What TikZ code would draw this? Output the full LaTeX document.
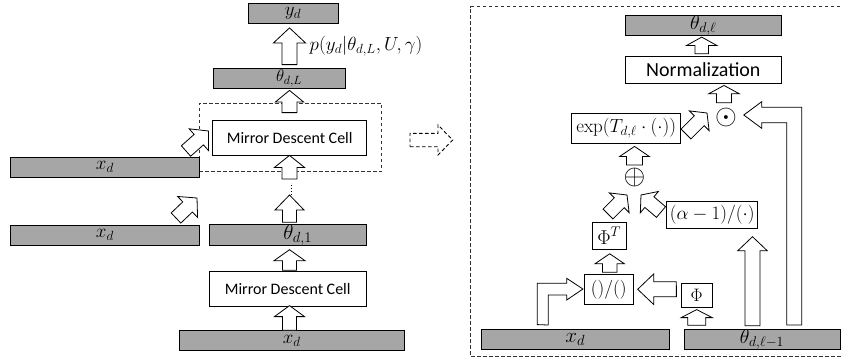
\RequirePackage{fix-cm}
\documentclass[tikz,border=0pt]{standalone}
\usepackage{fontspec}
\newfontfamily\cellfont{Carlito}
\usetikzlibrary{calc}

\tikzset{
  bahb/.store in=\baHB, bahh/.store in=\baHH, bahl/.store in=\baHL,
  bahb=7.5pt, bahh=15pt, bahl=11pt,
  fatarrow/.style={draw=black, line width=0.8pt, fill=white, line join=miter},
  box/.style={draw=black, line width=0.8pt, fill=white, inner sep=0pt, minimum height=20pt},
  greybox/.style={box, fill=black!35},
  mth/.style={font=\fontsize{19}{21}\selectfont},
  celltext/.style={font=\cellfont\fontsize{16}{18}\selectfont},
  dashbox/.style={draw=black!80, line width=0.8pt, dash pattern=on 3.5pt off 2.5pt},
  bigsym/.style={inner sep=0pt, font=\fontsize{28}{30}\selectfont},
}

% block arrow from #2 (tail centre) to #3 (tip)
\newcommand\blockarrow[3][]{%
  \begin{scope}[#1]
  \draw[fatarrow] ($(#2)!\baHB!-90:(#3)$)
    -- ($(#3)!\baHL!(#2)!\baHB!-90:(#3)$)
    -- ($(#3)!\baHL!(#2)!\baHH!-90:(#3)$)
    -- (#3)
    -- ($(#3)!\baHL!(#2)!\baHH!90:(#3)$)
    -- ($(#3)!\baHL!(#2)!\baHB!90:(#3)$)
    -- ($(#2)!\baHB!90:(#3)$) -- cycle;
  \end{scope}}

\begin{document}
\begin{tikzpicture}[x=1pt,y=-1pt]
\useasboundingbox (0,0) rectangle (843,362);

% ---------------- unrolled network ----------------
\coordinate (spine) at (289.5,0);
\node[greybox, mth, minimum width=90pt] (yd) at (293,13) {$y_d$};
\node[greybox, font=\fontsize{17}{19}\selectfont, minimum width=132pt] (thL) at (279,78) {\hspace{20pt}$\theta_{d,L}$};
\node[dashbox, minimum width=182.4pt, minimum height=68.7pt, inner sep=0pt] (cell) at (290.5,137.35) {};
\node[box, celltext, minimum width=154pt, minimum height=35pt] (mdc2) at (289.7,137.5) {Mirror Descent Cell};
\node[greybox, mth, minimum width=188.3pt] (xd1) at (104.9,167.3) {$x_d$};
\node[greybox, mth, minimum width=188.3pt] (xd2) at (104.9,235) {$x_d$};
\node[greybox, font=\fontsize{21}{23}\selectfont, minimum width=156.5pt] (th1) at (287.7,235) {\hspace{20pt}$\theta_{d,1}$};
\node[box, celltext, minimum width=156.5pt, minimum height=35pt] (mdc1) at (287.7,289.2) {Mirror Descent Cell};
\node[greybox, mth, minimum width=225.3pt] (xd3) at (291.7,340.7) {$x_d$\hspace{8pt}};
\node[mth, anchor=west, inner sep=0pt] (lik) at (309.5,46) {$p(y_d|\theta_{d,L},U,\gamma)$};

% arrow end points
\coordinate (a1s) at (xd3.north -| spine);
\coordinate (a1e) at ($(mdc1.south -| spine)+(0,-1.5)$);
\coordinate (a2s) at ($(mdc1.north -| spine)+(0,-1)$);
\coordinate (a2e) at ($(th1.south -| spine)+(0,4)$);
\coordinate (a3s) at ($(th1.north -| spine)+(0,-2)$);
\coordinate (dotlo) at (291.7,195);
\coordinate (dothi) at (291.7,183);
\coordinate (a3e) at (dotlo -| spine);
\coordinate (a4s) at ($(dothi -| spine)+(0,-4)$);
\coordinate (a4e) at (mdc2.south -| spine);
\coordinate (a5s) at ($(mdc2.north -| spine)+(0,-7)$);
\coordinate (a5e) at ($(thL.south -| spine)+(0,2)$);
\coordinate (a6s) at ($(thL.north -| spine)+(0,-3)$);
\coordinate (a6e) at ($(yd.south -| spine)+(0,4.5)$);
\coordinate (d1s) at (186,151);
\coordinate (d1e) at (208.5,131);
\coordinate (d2s) at (176,218);
\coordinate (d2e) at (197,198);

\blockarrow[bahb=7pt,bahh=15pt,bahl=11pt]{a1s}{a1e}
\blockarrow[bahb=7pt,bahh=15.5pt,bahl=11pt]{a2s}{a2e}
\blockarrow[bahb=7pt,bahh=14.5pt,bahl=15pt]{a3s}{a3e}
\draw[line width=1.4pt, dash pattern=on 1.4pt off 1.6pt] (dotlo) -- (dothi);
\blockarrow[bahb=7.5pt,bahh=15pt,bahl=12pt]{a4s}{a4e}
\blockarrow[bahb=7.5pt,bahh=14pt,bahl=11.5pt]{a5s}{a5e}
\blockarrow[bahb=7.5pt,bahh=16pt,bahl=15pt]{a6s}{a6e}
\blockarrow[bahb=7pt,bahh=14.5pt,bahl=13pt]{d1s}{d1e}
\blockarrow[bahb=7pt,bahh=14.5pt,bahl=13pt]{d2s}{d2e}

% expansion arrow
\coordinate (xs) at (410,140);
\coordinate (xe) at (452.7,140);
\blockarrow[bahb=6.7pt,bahh=15pt,bahl=14.7pt,fatarrow/.append style={dash pattern=on 3.5pt off 2.5pt, draw=black, line width=0.9pt}]{xs}{xe}

% ---------------- one mirror descent cell ----------------
\draw[dashbox] (846,6.7) -- (470.7,6.7) -- (470.7,356.7) -- (846,356.7);

\node[greybox, font=\fontsize{20}{22}\selectfont, minimum width=156.7pt] (thl) at (703.3,25) {$\theta_{d,\ell}$};
\node[box, font=\cellfont\fontsize{20}{22}\selectfont, minimum width=156.7pt, minimum height=27.3pt] (norm) at (703.3,69.7) {Normalization};
\node[box, mth, minimum width=109pt, minimum height=30pt] (expb) at (626.2,128) {$\exp(T_{d,\ell}\cdot(\cdot))$};
\node[bigsym] (oplus) at (634.5,177) {$\oplus$};
\node[bigsym] (odot) at (726,117.3) {$\odot$};
\node[box, font=\fontsize{20}{22}\selectfont, minimum width=33.7pt, minimum height=26.7pt] (phit) at (609.2,235.7) {$\Phi^T$};
\node[box, mth, minimum width=91pt, minimum height=26.7pt] (alph) at (712.2,215) {$(\alpha-1)/(\cdot)$};
\node[box, mth, minimum width=49pt, minimum height=30pt] (divb) at (608.8,289.3) {$()/()$};
\node[box, font=\fontsize{18}{20}\selectfont, minimum width=31.3pt, minimum height=24.4pt] (phi) at (696.7,295.5) {$\Phi$};
\node[greybox, font=\fontsize{21}{23}\selectfont, minimum width=188.3pt] (xd4) at (575.2,339.3) {$x_d$};
\node[greybox, font=\fontsize{20}{22}\selectfont, minimum width=156pt] (thm) at (762,339.3) {$\theta_{d,\ell-1}$};

\coordinate (r1s) at ($(thm.north -| phi)+(0,-3.6)$);
\coordinate (r1e) at ($(phi.south)+(0,1.5)$);
\coordinate (r2s) at ($(phi.west)+(-4.3,-6.3)$);
\coordinate (r2e) at ($(divb.east)+(4,0)$);
\coordinate (r3s) at ($(divb.north)+(0.9,-1.6)$);
\coordinate (r3e) at ($(phit.south)+(0.5,4.3)$);
\coordinate (r4s) at (608,214);
\coordinate (r4e) at (627,195);
\coordinate (r5s) at (661,212);
\coordinate (r5e) at (641,195);
\coordinate (r6s) at (634.5,165);
\coordinate (r6e) at ($(expb.south -| oplus)+(0,3)$);
\coordinate (r7s) at (686,134);
\coordinate (r7e) at (707,113);
\coordinate (r8s) at ($(odot.north)+(-2,-5)$);
\coordinate (r8e) at ($(norm.south -| r8s)+(0,1.7)$);
\coordinate (r9s) at ($(norm.north)+(-1.6,-2)$);
\coordinate (r9e) at ($(thl.south -| r9s)+(0,1.7)$);
\coordinate (r10s) at (752.5,325.7);
\coordinate (r10e) at (752.5,236.7);

\blockarrow[bahb=9pt,bahh=15.5pt,bahl=8pt]{r1s}{r1e}
\blockarrow[bahb=7.5pt,bahh=15.3pt,bahl=16pt]{r2s}{r2e}
\blockarrow[bahb=7.2pt,bahh=14.7pt,bahl=10pt]{r3s}{r3e}
\blockarrow[bahb=7pt,bahh=14pt,bahl=11pt]{r4s}{r4e}
\blockarrow[bahb=7pt,bahh=14pt,bahl=11pt]{r5s}{r5e}
\blockarrow[bahb=8pt,bahh=14.7pt,bahl=10pt]{r6s}{r6e}
\blockarrow[bahb=7pt,bahh=14pt,bahl=11pt]{r7s}{r7e}
\blockarrow[bahb=7.5pt,bahh=15.3pt,bahl=8.3pt]{r8s}{r8e}
\blockarrow[bahb=6.7pt,bahh=15pt,bahl=8.3pt]{r9s}{r9e}
\blockarrow[bahb=7.5pt,bahh=14.7pt,bahl=14pt]{r10s}{r10e}

% bent arrows
\draw[fatarrow] ($(xd4.north)+(-37.9,-4.3)$) -- (537.3,283.3) -- (566.7,283.3) -- (566.7,278.3)
  -- ($(divb.west)+(-1,-0.3)$) -- (566.7,300) -- (566.7,295) -- (548.3,295) -- (548.3,325) -- cycle;
\draw[fatarrow] (786.7,325) -- (786.7,122.7) -- (761.7,122.7) -- (761.7,128.3)
  -- ($(odot.east)+(6.7,-2.3)$) -- (761.7,101.7) -- (761.7,107.3) -- (801.7,107.3) -- (801.7,325) -- cycle;
\end{tikzpicture}
\end{document}
